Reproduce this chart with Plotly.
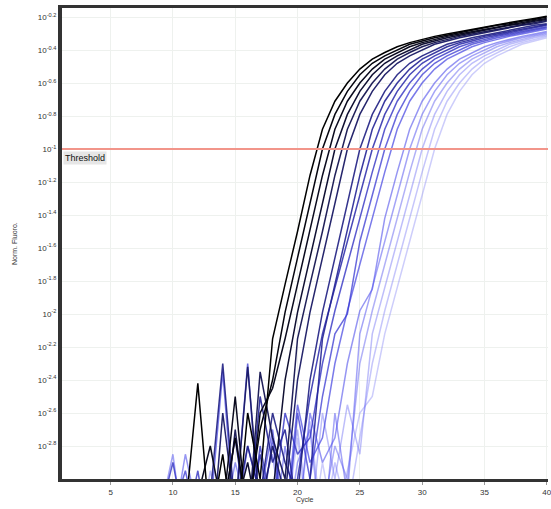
import numpy as np
import plotly.graph_objects as go

# qPCR amplification curves, log10 of normalised fluorescence per cycle (cycles 8..40)
cycles = list(range(8, 41))

run_01 = [-3.5, -3.3, -3.1, -3.2, -2.42, -3.3, -2.85, -3.4, -2.6, -3.0, -2.15, -1.82, -1.5, -1.16, -0.88, -0.71, -0.6,
          -0.515, -0.455, -0.415, -0.38, -0.355, -0.335, -0.317, -0.302, -0.288, -0.272, -0.258, -0.245, -0.232,
          -0.22, -0.208, -0.195]
run_02 = [-3.4, -3.2, -3.5, -3.1, -3.3, -3.5, -3.2, -2.75, -3.2, -2.7, -2.4, -1.99, -1.66, -1.33, -1.0, -0.79, -0.65,
          -0.55, -0.48, -0.435, -0.4, -0.365, -0.345, -0.325, -0.31, -0.295, -0.28, -0.265, -0.25, -0.24, -0.225,
          -0.215, -0.2]
run_03 = [-3.3, -3.5, -3.2, -3.4, -3.1, -2.8, -3.2, -2.5, -3.3, -2.6, -2.45, -2.15, -1.82, -1.5, -1.16, -0.88, -0.71,
          -0.6, -0.515, -0.455, -0.415, -0.38, -0.355, -0.335, -0.317, -0.302, -0.288, -0.272, -0.258, -0.245,
          -0.232, -0.22, -0.208]
run_16 = [-3.3, -3.2, -3.4, -3.3, -3.1, -3.4, -3.3, -3.2, -2.9, -3.3, -3.1, -2.4, -1.99, -1.66, -1.33, -1.0, -0.79,
          -0.65, -0.55, -0.48, -0.435, -0.4, -0.365, -0.345, -0.325, -0.31, -0.295, -0.28, -0.265, -0.25, -0.24,
          -0.225, -0.215]
run_04 = [-3.4, -3.2, -3.3, -3.5, -3.2, -3.3, -3.4, -2.7, -3.3, -2.35, -2.75, -3.0, -2.15, -1.82, -1.5, -1.16, -0.88,
          -0.71, -0.6, -0.515, -0.455, -0.415, -0.38, -0.355, -0.335, -0.317, -0.302, -0.288, -0.272, -0.258,
          -0.245, -0.232, -0.22]
run_05 = [-3.3, -3.4, -3.1, -3.3, -3.2, -3.5, -2.6, -3.2, -2.32, -3.2, -2.8, -3.1, -2.4, -1.99, -1.66, -1.33, -1.0,
          -0.79, -0.65, -0.55, -0.48, -0.435, -0.4, -0.365, -0.345, -0.325, -0.31, -0.295, -0.28, -0.265, -0.25,
          -0.24, -0.225]
run_06 = [-3.5, -3.3, -3.2, -3.4, -3.3, -3.1, -2.3, -3.2, -2.8, -3.1, -2.6, -2.9, -3.1, -2.4, -1.99, -1.66, -1.33,
          -1.0, -0.79, -0.65, -0.55, -0.48, -0.435, -0.4, -0.365, -0.345, -0.325, -0.31, -0.295, -0.28, -0.265,
          -0.25, -0.24]
run_07 = [-3.3, -3.1, -3.4, -3.2, -3.5, -3.3, -3.2, -2.75, -3.3, -2.5, -2.9, -2.7, -3.2, -3.0, -2.15, -1.82, -1.5,
          -1.16, -0.88, -0.71, -0.6, -0.515, -0.455, -0.415, -0.38, -0.355, -0.335, -0.317, -0.302, -0.288, -0.272,
          -0.258, -0.245]
run_17 = [-3.4, -3.3, -3.2, -3.4, -3.3, -3.2, -3.4, -3.1, -3.3, -2.85, -3.3, -3.2, -3.0, -2.5, -2.12, -1.84, -1.56,
          -1.28, -1.0, -0.79, -0.65, -0.55, -0.48, -0.435, -0.4, -0.365, -0.345, -0.325, -0.31, -0.295, -0.28,
          -0.265, -0.25]
run_08 = [-3.4, -3.2, -2.9, -3.3, -2.95, -3.4, -3.2, -3.3, -3.4, -2.8, -3.2, -2.6, -2.85, -2.75, -2.3, -1.98, -1.7,
          -1.42, -1.14, -0.88, -0.71, -0.6, -0.515, -0.455, -0.415, -0.38, -0.355, -0.335, -0.317, -0.302, -0.288,
          -0.272, -0.258]
run_09 = [-3.3, -3.5, -3.2, -2.95, -3.3, -3.1, -3.4, -3.2, -2.3, -3.3, -2.75, -3.4, -2.6, -3.0, -2.5, -2.12, -2.0,
          -1.56, -1.28, -1.0, -0.79, -0.65, -0.55, -0.48, -0.435, -0.4, -0.365, -0.345, -0.325, -0.31, -0.295,
          -0.28, -0.265]
run_10 = [-3.2, -3.3, -3.4, -3.1, -3.3, -3.2, -2.35, -3.3, -2.8, -3.1, -2.7, -3.3, -2.55, -2.9, -2.75, -2.3, -1.98,
          -1.7, -1.42, -1.14, -0.88, -0.71, -0.6, -0.515, -0.455, -0.415, -0.38, -0.355, -0.335, -0.317, -0.302,
          -0.288, -0.272]
run_11 = [-3.4, -3.1, -3.3, -2.85, -3.2, -3.4, -3.3, -2.9, -3.2, -3.3, -3.4, -2.8, -3.3, -2.6, -2.9, -2.75, -2.3,
          -1.98, -1.85, -1.42, -1.14, -0.88, -0.71, -0.6, -0.515, -0.455, -0.415, -0.38, -0.355, -0.335, -0.317,
          -0.302, -0.288]
run_12 = [-3.3, -3.2, -2.85, -3.4, -3.1, -3.3, -3.2, -3.4, -3.3, -3.1, -2.85, -3.4, -2.9, -2.7, -3.4, -2.6, -3.1,
          -2.12, -1.84, -1.56, -1.28, -1.0, -0.79, -0.65, -0.55, -0.48, -0.435, -0.4, -0.365, -0.345, -0.325,
          -0.31, -0.295]
run_18 = [-3.3, -3.4, -3.2, -3.3, -3.1, -3.4, -3.3, -3.2, -3.3, -3.4, -3.2, -3.3, -3.1, -3.4, -3.2, -2.8, -3.0,
          -2.3, -1.98, -1.7, -1.42, -1.14, -0.88, -0.71, -0.6, -0.515, -0.455, -0.415, -0.38, -0.355, -0.335,
          -0.317, -0.302]
run_13 = [-3.4, -3.3, -3.1, -3.2, -3.4, -2.95, -3.3, -3.2, -3.4, -3.3, -3.1, -3.2, -2.7, -3.3, -2.6, -3.0, -2.55,
          -2.85, -2.12, -1.84, -1.56, -1.28, -1.0, -0.79, -0.65, -0.55, -0.48, -0.435, -0.4, -0.365, -0.345,
          -0.325, -0.31]
run_14 = [-3.3, -3.4, -3.2, -3.3, -3.1, -3.4, -3.3, -3.2, -3.4, -3.3, -3.2, -3.4, -3.3, -2.65, -3.3, -2.9, -3.2,
          -2.75, -2.3, -1.98, -1.7, -1.42, -1.14, -0.88, -0.71, -0.6, -0.515, -0.455, -0.415, -0.38, -0.355,
          -0.335, -0.317]
run_15 = [-3.4, -3.2, -3.3, -3.5, -3.2, -3.3, -3.4, -3.1, -3.3, -3.2, -3.4, -3.3, -2.75, -3.4, -2.9, -3.3, -2.95,
          -2.6, -2.5, -2.12, -1.84, -1.56, -1.28, -1.0, -0.79, -0.65, -0.55, -0.48, -0.435, -0.4, -0.365, -0.345,
          -0.325]

# ordered from earliest to latest threshold crossing
runs = [run_01, run_02, run_03, run_16, run_04, run_05, run_06, run_07, run_17,
        run_08, run_09, run_10, run_11, run_12, run_18, run_13, run_14, run_15]

threshold = 0.1
y_tick_exponents = [-0.2, -0.4, -0.6, -0.8, -1, -1.2, -1.4, -1.6, -1.8, -2, -2.2, -2.4, -2.6, -2.8]
x_ticks = [5, 10, 15, 20, 25, 30, 35, 40]

# styling, dark for early runs fading to light blue for late ones
colors = ['rgba(0,0,0,1)', 'rgba(5,5,15,1)', 'rgba(10,10,30,1)', 'rgba(15,15,50,1)', 'rgba(20,20,80,0.95)',
          'rgba(25,25,100,0.95)', 'rgba(30,30,130,0.9)', 'rgba(35,35,150,0.9)', 'rgba(40,40,170,0.85)',
          'rgba(50,50,195,0.8)', 'rgba(55,55,210,0.75)', 'rgba(65,65,225,0.7)', 'rgba(80,80,235,0.6)',
          'rgba(90,90,240,0.55)', 'rgba(100,100,240,0.5)', 'rgba(110,110,245,0.45)', 'rgba(120,120,245,0.42)',
          'rgba(130,130,245,0.4)']

fig = go.Figure()
# light (late) runs first so the dark ones sit on top
for vals, col in reversed(list(zip(runs, colors))):
    fig.add_trace(go.Scatter(x=cycles, y=np.power(10.0, vals), mode='lines',
                             line=dict(color=col, width=1.5), showlegend=False, hoverinfo='skip'))

fig.add_hline(y=threshold, line=dict(color='#f2958a', width=2))
fig.add_annotation(x=0, xref='paper', y=-1, yref='y', text='Threshold', showarrow=False,
                   xanchor='left', yanchor='top', yshift=-2, xshift=1,
                   bgcolor='#e6e6e6', font=dict(size=9, color='#111', family='Arial'))

axis_font = dict(size=8, color='#333', family='Arial')
fig.update_xaxes(range=[1.1, 40.1], tickvals=x_ticks, ticks='outside', ticklen=3, tickcolor='#999',
                 ticklabelstandoff=0, ticklabeloverflow='allow',
                 showgrid=True, gridcolor='#eef1ee', gridwidth=1, zeroline=False, automargin=False,
                 showline=True, linecolor='#333', linewidth=3, mirror=True, tickfont=axis_font)
fig.update_yaxes(type='log', range=[-3.0, -0.145],
                 tickvals=[10 ** e for e in y_tick_exponents],
                 ticktext=['10<sup>%g</sup>' % e for e in y_tick_exponents],
                 showgrid=True, gridcolor='#eef1ee', gridwidth=1, zeroline=False, automargin=False,
                 showline=True, linecolor='#333', linewidth=4, tickfont=axis_font)

# axis titles placed by hand
fig.add_annotation(text='Cycle', x=0.5, xref='paper', y=0, yref='paper', yshift=-27,
                   showarrow=False, font=dict(size=7, color='#333', family='Arial'))
fig.add_annotation(text='Norm. Fluoro.', x=0, xref='paper', xshift=-53, y=0.5, yref='paper',
                   textangle=-90, showarrow=False, font=dict(size=7, color='#333', family='Arial'))

fig.update_layout(width=551, height=509, margin=dict(l=62, r=3, t=8, b=30),
                  plot_bgcolor='white', paper_bgcolor='white')

# drop the browser's default page margin so the figure sits at the top-left corner
fig.write_html("out.html", config={'displayModeBar': False},
               post_script="document.body.style.margin='0';")
